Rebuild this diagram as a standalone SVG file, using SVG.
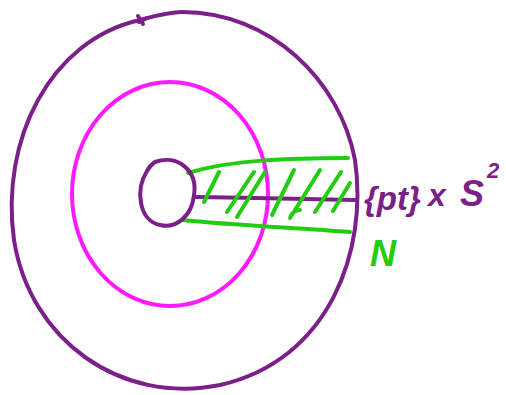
<svg xmlns="http://www.w3.org/2000/svg" width="506" height="395" viewBox="0 0 506 395">
<style>
.p{fill:none;stroke:#7a2088;stroke-width:4;stroke-linecap:round;stroke-linejoin:round}
.m{fill:none;stroke:#ff1aff;stroke-width:4;stroke-linecap:round}
.g{fill:none;stroke:#22cc11;stroke-width:4;stroke-linecap:round;stroke-linejoin:round}
.t{font-family:"Liberation Sans",sans-serif;font-style:italic;font-weight:bold}
</style>
<rect width="506" height="395" fill="#fff"/>
<g id="outer">
<path class="p" d="M182,12 C270,12 340,80 355,160 C368,250 330,360 220,385 C120,405 30,340 14,240 C0,140 50,40 140,20 C155,16 168,12 182,12 Z"/>
<path class="p" d="M138,16 L143,24 M139,22 L147,18"/>
</g>
<g id="middle">
<ellipse class="m" cx="170" cy="194" rx="98" ry="112"/>
</g>
<g id="strip">
<path class="g" d="M188,173 C230,160 290,158 348,158"/>
<path class="g" d="M182,220 C230,225 300,228 350,232"/>
<path class="p" d="M196,197 C250,198 310,199 355,200"/>
<path class="g" d="M219,172 L204,202 M254,172 L227,212 M265,172 L237,217 M294,170 L272,215 M320,170 L290,218 C292,212 296,210 300,210 M341,172 L315,212 M350,183 L333,211"/>
</g>
<g id="point">
<path class="p" d="M155,162 C177,154 198,170 194,195 C192,216 176,229 160,225 C139,221 135,190 147,171 C149,167 152,164 155,162"/>
</g>
<g id="labels">
<text class="t" x="364" y="210" font-size="33" fill="#7a2088">{pt}</text>
<text class="t" x="428" y="206" font-size="32" fill="#7a2088">x</text>
<text class="t" x="460" y="206" font-size="36" fill="#7a2088">S</text>
<text class="t" x="487" y="178" font-size="22" fill="#7a2088">2</text>
<text class="t" x="370" y="266" font-size="36" fill="#22cc11">N</text>
</g>
</svg>
